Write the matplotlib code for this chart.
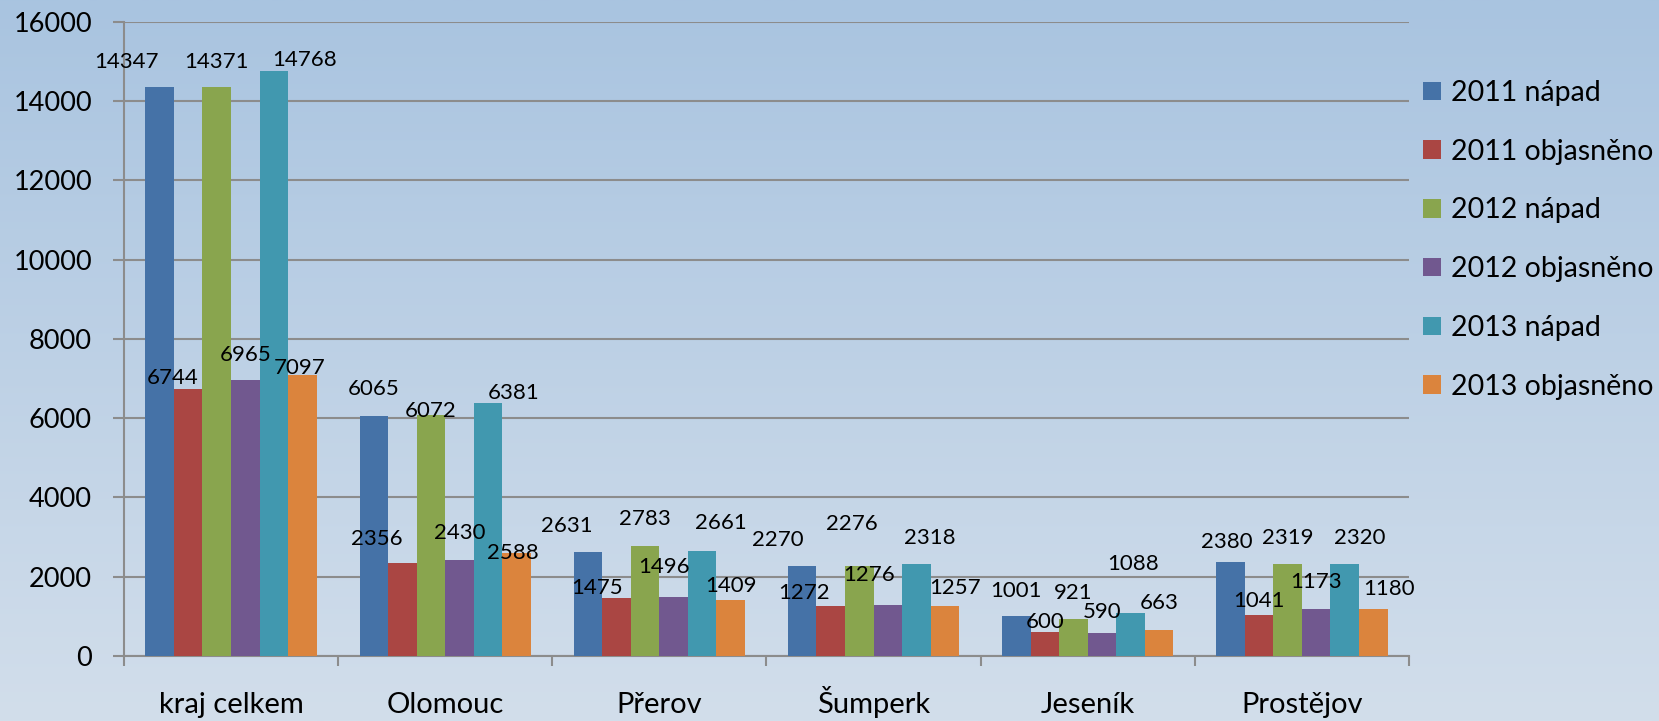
import numpy as np
import matplotlib
matplotlib.use("Agg")
import matplotlib.pyplot as plt
from matplotlib.patches import Patch

categories = ["kraj celkem", "Olomouc", "Přerov", "Šumperk", "Jeseník", "Prostějov"]
series_names = ["2011 nápad", "2011 objasněno", "2012 nápad", "2012 objasněno", "2013 nápad", "2013 objasněno"]
nap_2011 = [14347, 6065, 2631, 2270, 1001, 2380]
obj_2011 = [6744, 2356, 1475, 1272, 600, 1041]
nap_2012 = [14371, 6072, 2783, 2276, 921, 2319]
obj_2012 = [6965, 2430, 1496, 1276, 590, 1173]
nap_2013 = [14768, 6381, 2661, 2318, 1088, 2320]
obj_2013 = [7097, 2588, 1409, 1257, 663, 1180]
series = [nap_2011, obj_2011, nap_2012, obj_2012, nap_2013, obj_2013]
colors = ["#4572a7", "#aa4643", "#89a54e", "#71588f", "#4198af", "#db843d"]
yticks = [0, 2000, 4000, 6000, 8000, 10000, 12000, 14000, 16000]

# label offsets (pixels: dx, dy above bar top) per series, per category
label_dx = [
    [-33, 0, -21, -24, 0, -4],
    [-16, -26, -20, -27, 0, 0],
    [0, 0, 0, -7, 0, 0],
    [0, 0, -10, -19, 0, 0],
    [31, 26, 19, 13, 3, 15],
    [-3, -4, 0, 10, 0, 16],
]
label_dy = [
    [25, 27, 26, 26, 25, 20],
    [11, 24, 10, 13, 10, 14],
    [25, 4, 27, 42, 26, 26],
    [25, 27, 30, 30, 21, 27],
    [11, 10, 28, 26, 49, 26],
    [7, 0, 14, 18, 27, 20],
]

fig = plt.figure(figsize=(16.59, 7.21), dpi=100)
plt.rcParams['font.family'] = ['Lato', 'DejaVu Sans']

# gradient background
bg = fig.add_axes([0, 0, 1, 1], zorder=-10)
grad = np.linspace(0, 1, 256).reshape(-1, 1)
top = np.array([0xa9, 0xc4, 0xe0]) / 255
bot = np.array([0xd2, 0xde, 0xeb]) / 255
img = top[None, None, :] * (1 - grad[:, :, None]) + bot[None, None, :] * grad[:, :, None]
bg.imshow(img, aspect='auto', extent=[0, 1, 0, 1], origin='upper')
bg.axis('off')

ax = fig.add_axes([0.0747, 0.0902, 0.7746, 0.8793])
ax.patch.set_alpha(0)

n = len(categories)
ns = len(series)
x = np.arange(n)
w = 0.8 / ns
for i, (vals, c) in enumerate(zip(series, colors)):
    pos = x - 0.4 + w * (i + 0.5)
    ax.bar(pos, vals, width=w, color=c, edgecolor='none', zorder=3)
    for j, v in enumerate(vals):
        ax.annotate(str(v), (pos[j], v), xytext=(label_dx[i][j], label_dy[i][j]),
                    textcoords='offset pixels', ha='center', va='center',
                    fontsize=16, color='black', zorder=5)

ax.set_xlim(-0.5, n - 0.5)
ax.set_ylim(0, 16000)
ax.set_yticks(yticks)
ax.set_yticklabels([str(t) for t in yticks], fontsize=19.5)
ax.set_xticks(np.arange(n + 1) - 0.5)
ax.set_xticklabels([])
ax.set_xticks(x, minor=True)
ax.set_xticklabels(categories, minor=True, fontsize=21, va='baseline')
ax.tick_params(axis='x', which='minor', length=0, pad=41)
ax.tick_params(axis='x', which='major', length=7.5, width=1.5, color='#8c8c8c', direction='out')
ax.tick_params(axis='y', length=8, width=1.5, color='#8c8c8c', direction='out', pad=15)
ax.grid(axis='y', color='#8c8c8c', linewidth=1.5, zorder=0)
for s in ['top', 'right']:
    ax.spines[s].set_visible(False)
for s in ['left', 'bottom']:
    ax.spines[s].set_color('#8c8c8c')
    ax.spines[s].set_linewidth(1.5)
ax.set_axisbelow(True)

handles = [Patch(facecolor=c, edgecolor='none', label=l) for c, l in zip(colors, series_names)]
fig.legend(handles=handles, loc='upper left', bbox_to_anchor=(0.851, 0.905),
           frameon=False, fontsize=20.5, handlelength=0.62, handleheight=0.62,
           handletextpad=0.35, labelspacing=1.15, borderaxespad=0)

fig.savefig("out.png", dpi=100)
